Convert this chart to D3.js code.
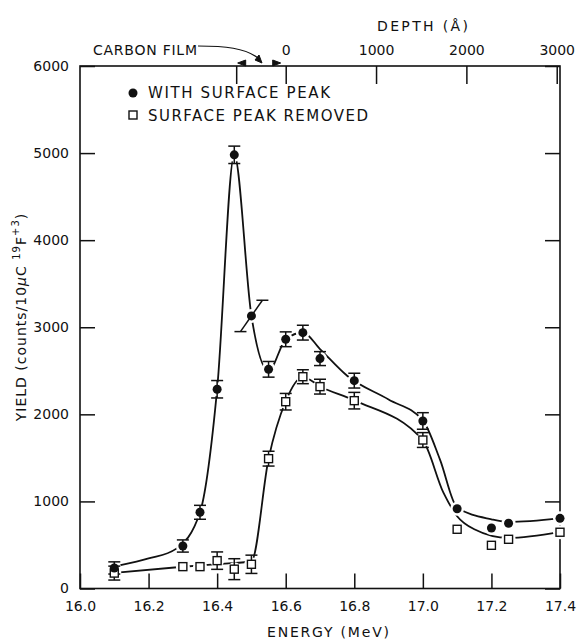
<!DOCTYPE html>
<html>
<head>
<meta charset="utf-8">
<script src="https://cdn.jsdelivr.net/npm/d3@7"></script>
<style>
  body { margin: 0; background: #fff; }
  text { font-family: "DejaVu Sans", sans-serif; fill: #111; }
</style>
</head>
<body>
<div id="chart"></div>
<script>
// measured points, with surface peak (filled circles)
var energyWith = [16.1, 16.3, 16.35, 16.4, 16.45, 16.5, 16.55, 16.6, 16.65, 16.7, 16.8, 17.0, 17.1, 17.2, 17.25, 17.4];
var yieldWith  = [236, 488, 875, 2288, 4980, 3130, 2517, 2862, 2938, 2640, 2387, 1924, 916, 695, 749, 806];
var errWith    = [70, 70, 80, 100, 100, 180, 90, 85, 85, 80, 85, 95, 0, 0, 0, 0];
var tiltWith   = [0, 0, 0, 0, 0, 0.032, 0, 0, 0, 0, 0, 0, 0, 0, 0, 0];

// surface peak removed (open squares)
var energyRemoved = [16.1, 16.3, 16.35, 16.4, 16.45, 16.5, 16.55, 16.6, 16.65, 16.7, 16.8, 17.0, 17.1, 17.2, 17.25, 17.4];
var yieldRemoved  = [177, 251, 251, 320, 222, 278, 1491, 2145, 2432, 2318, 2157, 1705, 680, 496, 565, 646];
var errRemoved    = [80, 0, 0, 100, 120, 105, 85, 95, 80, 85, 95, 85, 0, 0, 0, 0];

// hand drawn guide curves
var fitWithE = [16.115, 16.2, 16.28, 16.35, 16.4, 16.45, 16.5, 16.55, 16.6, 16.65, 16.7, 16.78, 16.9, 17.0, 17.05, 17.1, 17.2, 17.25, 17.4];
var fitWithY = [265, 345, 455, 875, 2290, 4980, 3130, 2500, 2860, 2940, 2750, 2440, 2170, 1930, 1480, 930, 795, 765, 806];
var fitRemovedE = [16.1, 16.3, 16.4, 16.5, 16.55, 16.6, 16.65, 16.7, 16.8, 17.0, 17.06, 17.1, 17.15, 17.25, 17.4];
var fitRemovedY = [180, 250, 280, 310, 1490, 2150, 2430, 2320, 2160, 1700, 1100, 830, 680, 580, 650];

var energyTicks = [16.0, 16.2, 16.4, 16.6, 16.8, 17.0, 17.2, 17.4];
var yieldTicks = [0, 1000, 2000, 3000, 4000, 5000, 6000];
var depthTicks = [0, 1000, 2000, 3000];
var depthZeroEnergy = 16.6;
var carbonFilmEnergy = 16.457;

var svgWidth = 580;
var svgHeight = 640;

var svg = d3.select("#chart")
    .append("svg")
    .attr("width", svgWidth)
    .attr("height", svgHeight);

var x = d3.scaleLinear().domain([16.0, 17.4]).range([80, 560]);
var y = d3.scaleLinear().domain([0, 6000]).range([588.5, 66]);
var depth = d3.scaleLinear().domain([0, 3000])
    .range([x(depthZeroEnergy), x(depthZeroEnergy) + 271]);

// frame
svg.append("rect")
    .attr("x", x(16.0)).attr("y", y(6000))
    .attr("width", x(17.4) - x(16.0)).attr("height", y(0) - y(6000))
    .attr("fill", "none").attr("stroke", "#111").attr("stroke-width", 1.6);

function styleAxis(g) {
    g.select(".domain").remove();
    g.selectAll(".tick line").attr("stroke", "#111").attr("stroke-width", 1.5);
    g.selectAll("text").attr("font-size", 14).attr("font-family", "DejaVu Sans").attr("fill", "#111");
}

svg.append("g")
    .attr("transform", `translate(0, ${y(0)})`)
    .call(d3.axisBottom(x).tickValues(energyTicks).tickFormat(d3.format(".1f")).tickSize(-15).tickPadding(13))
    .call(styleAxis);

svg.append("g")
    .attr("transform", `translate(${x(16.0)}, 0)`)
    .call(d3.axisLeft(y).tickValues(yieldTicks).tickFormat(d3.format("d")).tickSize(-15).tickPadding(11))
    .call(styleAxis);

svg.append("g")
    .attr("transform", `translate(${x(17.4)}, 0)`)
    .call(d3.axisRight(y).tickValues(yieldTicks).tickSize(-15).tickFormat(""))
    .call(styleAxis);

svg.append("g")
    .attr("transform", `translate(0, ${y(6000)})`)
    .call(d3.axisTop(depth).tickValues(depthTicks).tickFormat(d3.format("d")).tickSize(-18).tickPadding(11))
    .call(styleAxis);

// carbon film edge tick
svg.append("line")
    .attr("x1", x(carbonFilmEnergy)).attr("x2", x(carbonFilmEnergy))
    .attr("y1", y(6000)).attr("y2", y(6000) + 18)
    .attr("stroke", "#111").attr("stroke-width", 1.5);

// carbon film dimension arrows
var film = svg.append("g").attr("stroke", "#111").attr("fill", "#111");
var fy = y(6000) - 3;
film.append("path")
    .attr("d", `M${x(carbonFilmEnergy) + 1},${fy} l8,-3 l0,6 z`);
film.append("path")
    .attr("d", `M${depth(0) - 5},${fy} l-8,-3 l0,6 z`);
film.append("path")
    .attr("fill", "none").attr("stroke-width", 1.2)
    .attr("d", `M198,46 C225,46 245,48 258,58`);
film.append("path")
    .attr("d", "M262,63 l-7,-3 l4,-5 z");

svg.append("text")
    .attr("x", 93).attr("y", 55)
    .attr("font-size", 14)
    .attr("textLength", 104).attr("lengthAdjust", "spacing")
    .text("CARBON FILM");

svg.append("text")
    .attr("x", 377).attr("y", 31)
    .attr("font-size", 14)
    .attr("textLength", 91).attr("lengthAdjust", "spacing")
    .text("DEPTH (Å)");

// axis titles
svg.append("text")
    .attr("x", 267).attr("y", 637)
    .attr("font-size", 14)
    .attr("textLength", 122).attr("lengthAdjust", "spacing")
    .text("ENERGY (MeV)");

var yTitle = svg.append("text")
    .attr("transform", "translate(26, 317) rotate(-90)")
    .attr("text-anchor", "middle")
    .attr("letter-spacing", 1)
    .attr("font-size", 14);
yTitle.append("tspan").text("YIELD (counts/10");
yTitle.append("tspan").attr("font-style", "italic").text("μ");
yTitle.append("tspan").text("C  ");
yTitle.append("tspan").attr("font-size", 10).attr("dy", -6).text("19");
yTitle.append("tspan").attr("dy", 6).text("F");
yTitle.append("tspan").attr("font-size", 10).attr("dy", -7).text("+3");
yTitle.append("tspan").attr("dy", 7).text(")");

// guide curves
var line = d3.line()
    .x(d => x(d[0]))
    .y(d => y(d[1]))
    .curve(d3.curveMonotoneX);

var fitWith = fitWithE.map((e, i) => [e, fitWithY[i]]);
var fitRemoved = fitRemovedE.map((e, i) => [e, fitRemovedY[i]]);

[fitWith, fitRemoved].forEach(function (pts) {
    svg.append("path")
        .datum(pts)
        .attr("d", line)
        .attr("fill", "none")
        .attr("stroke", "#111")
        .attr("stroke-width", 1.8);
});

var withData = energyWith.map((e, i) => ({ e: e, v: yieldWith[i], err: errWith[i], tilt: tiltWith[i] }));
var removedData = energyRemoved.map((e, i) => ({ e: e, v: yieldRemoved[i], err: errRemoved[i], tilt: 0 }));

// white halos so the curves break at the markers
svg.append("g").selectAll("circle")
    .data(withData.concat(removedData))
    .enter()
    .append("circle")
    .attr("cx", d => x(d.e))
    .attr("cy", d => y(d.v))
    .attr("r", 7)
    .attr("fill", "#fff");

// error bars
function drawErrors(data) {
    var g = svg.append("g").attr("stroke", "#111").attr("stroke-width", 1.5);
    var withErr = data.filter(d => d.err > 0);
    g.selectAll(".bar")
        .data(withErr)
        .enter()
        .append("line")
        .attr("x1", d => x(d.e - d.tilt))
        .attr("x2", d => x(d.e + d.tilt))
        .attr("y1", d => y(d.v - d.err))
        .attr("y2", d => y(d.v + d.err));
    g.selectAll(".capTop")
        .data(withErr)
        .enter()
        .append("line")
        .attr("x1", d => x(d.e + d.tilt) - 6)
        .attr("x2", d => x(d.e + d.tilt) + 6)
        .attr("y1", d => y(d.v + d.err))
        .attr("y2", d => y(d.v + d.err));
    g.selectAll(".capBottom")
        .data(withErr)
        .enter()
        .append("line")
        .attr("x1", d => x(d.e - d.tilt) - 6)
        .attr("x2", d => x(d.e - d.tilt) + 6)
        .attr("y1", d => y(d.v - d.err))
        .attr("y2", d => y(d.v - d.err));
}
drawErrors(removedData);
drawErrors(withData);

// markers
svg.append("g").selectAll("rect")
    .data(removedData)
    .enter()
    .append("rect")
    .attr("x", d => x(d.e) - 4)
    .attr("y", d => y(d.v) - 4)
    .attr("width", 8)
    .attr("height", 8)
    .attr("fill", "#fff")
    .attr("stroke", "#111")
    .attr("stroke-width", 1.4);

svg.append("g").selectAll("circle")
    .data(withData)
    .enter()
    .append("circle")
    .attr("cx", d => x(d.e))
    .attr("cy", d => y(d.v))
    .attr("r", 4.5)
    .attr("fill", "#111");

// legend
svg.append("circle").attr("cx", 133).attr("cy", 93).attr("r", 4.5).attr("fill", "#111");
svg.append("rect").attr("x", 129).attr("y", 111).attr("width", 8).attr("height", 8)
    .attr("fill", "#fff").attr("stroke", "#111").attr("stroke-width", 1.4);
svg.append("text").attr("x", 148).attr("y", 98).attr("font-size", 15)
    .attr("textLength", 182).attr("lengthAdjust", "spacing")
    .text("WITH SURFACE PEAK");
svg.append("text").attr("x", 148).attr("y", 121).attr("font-size", 15)
    .attr("textLength", 220).attr("lengthAdjust", "spacing")
    .text("SURFACE PEAK REMOVED");
</script>
</body>
</html>
